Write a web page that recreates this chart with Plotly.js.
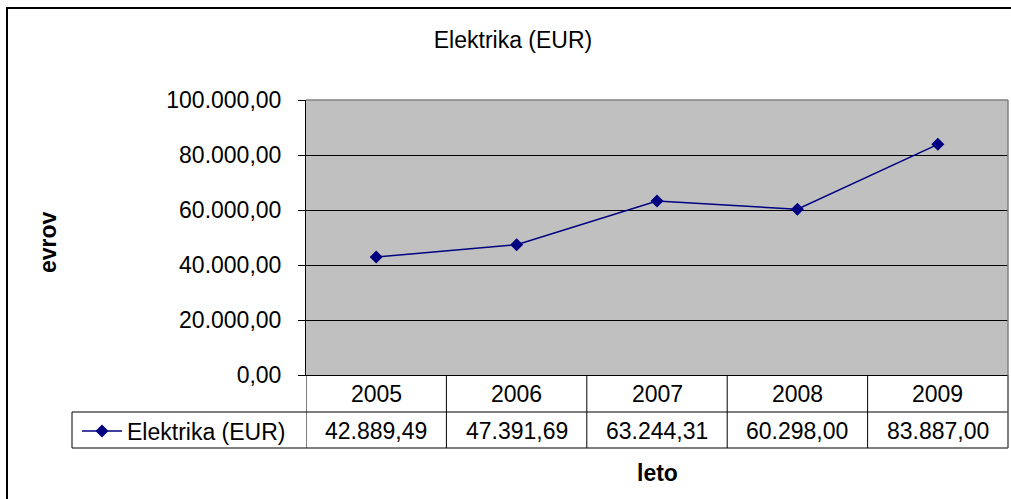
<!DOCTYPE html>
<html>
<head>
<meta charset="utf-8">
<script src="https://cdn.plot.ly/plotly-3.0.1.min.js"></script>
<style>html,body{margin:0;padding:0;background:#fff;}#chart{width:1011px;height:499px;}</style>
</head>
<body>
<div id="chart"></div>
<script>
const chartTitle = 'Elektrika (EUR)';
const seriesName = 'Elektrika (EUR)';
const years = ['2005', '2006', '2007', '2008', '2009'];
const values = [42889.49, 47391.69, 63244.31, 60298.00, 83887.00];
const yTicks = [0, 20000, 40000, 60000, 80000, 100000];
const yTitle = 'evrov';
const xTitle = 'leto';

const FONT = 'Liberation Sans, Arial, sans-serif';
const FS = 23;
const NAVY = '#000080';

function fmt(v) {
  const parts = v.toFixed(2).split('.');
  parts[0] = parts[0].replace(/\B(?=(\d{3})+(?!\d))/g, '.');
  return parts[0] + ',' + parts[1];
}

// pixel helpers for paper coords (plot area: x 306..1008, y 100..375)
const L = 306, R = 1008, T = 100, B = 375;
const px = x => (x - L) / (R - L);
const py = y => (B - y) / (B - T);

const shapes = [];
shapes.push({type: 'rect', xref: 'paper', yref: 'paper', x0: px(7), x1: px(1016), y0: py(520), y1: py(8),
  line: {color: '#000', width: 2}, fillcolor: 'rgba(0,0,0,0)', layer: 'below'});
shapes.push({type: 'line', xref: 'paper', yref: 'paper', x0: 0, x1: 1, y0: 1, y1: 1, line: {color: '#808080', width: 1.5}});
shapes.push({type: 'line', xref: 'paper', yref: 'paper', x0: 1, x1: 1, y0: 0, y1: 1, line: {color: '#808080', width: 1.5}});
shapes.push({type: 'line', xref: 'paper', yref: 'paper', x0: px(72), x1: 1, y0: py(412), y1: py(412), line: {color: '#000', width: 1}});
shapes.push({type: 'line', xref: 'paper', yref: 'paper', x0: px(72), x1: 1, y0: py(448), y1: py(448), line: {color: '#000', width: 1}});
shapes.push({type: 'line', xref: 'paper', yref: 'paper', x0: px(72), x1: px(72), y0: py(412), y1: py(448), line: {color: '#000', width: 1}});
shapes.push({type: 'line', xref: 'paper', yref: 'paper', x0: 1, x1: 1, y0: py(375), y1: py(448), line: {color: '#555', width: 1.5}});
for (let i = 0; i < years.length; i++) {
  shapes.push({type: 'line', xref: 'x', yref: 'paper', x0: i - 0.5, x1: i - 0.5, y0: py(375), y1: py(448), line: {color: '#000', width: 1}});
}

const annotations = [];
years.forEach((yr, i) => {
  annotations.push({xref: 'x', yref: 'paper', x: i, y: py(394), text: yr, showarrow: false,
    xanchor: 'center', yanchor: 'middle', font: {family: FONT, size: FS, color: '#000'}});
  annotations.push({xref: 'x', yref: 'paper', x: i, y: py(431), text: fmt(values[i]), showarrow: false,
    xanchor: 'center', yanchor: 'middle', font: {family: FONT, size: FS, color: '#000'}});
});
annotations.push({xref: 'paper', yref: 'paper', x: px(48), y: py(242), text: '<b>' + yTitle + '</b>', textangle: -90,
  showarrow: false, xanchor: 'center', yanchor: 'middle', font: {family: FONT, size: FS, color: '#000'}});
annotations.push({xref: 'paper', yref: 'paper', x: px(657), y: py(473), text: '<b>' + xTitle + '</b>',
  showarrow: false, xanchor: 'center', yanchor: 'middle', font: {family: FONT, size: FS, color: '#000'}});

const trace = {
  type: 'scatter', mode: 'lines+markers', name: seriesName,
  x: years, y: values,
  line: {color: NAVY, width: 1.5},
  marker: {symbol: 'diamond', size: 10, color: NAVY}
};

const layout = {
  width: 1011, height: 499,
  margin: {l: L, r: 1011 - R, t: T, b: 499 - B, pad: 0},
  paper_bgcolor: '#ffffff', plot_bgcolor: '#C0C0C0',
  separators: ',.',
  font: {family: FONT, size: FS, color: '#000'},
  title: {text: chartTitle, x: 513 / 1011, xanchor: 'center', y: 1 - 40 / 499, yanchor: 'middle', yref: 'container',
    font: {family: FONT, size: FS, color: '#000'}},
  showlegend: true,
  legend: {x: px(77), y: py(431), xanchor: 'left', yanchor: 'middle', bgcolor: 'rgba(0,0,0,0)',
    borderwidth: 0, font: {family: FONT, size: FS, color: '#000'}, itemwidth: 40},
  xaxis: {type: 'category', range: [-0.5, 4.5], showticklabels: false, ticks: '', showgrid: false,
    showline: true, linecolor: '#000', linewidth: 1, zeroline: false, fixedrange: true},
  yaxis: {range: [0, 100000], tickvals: yTicks, tickformat: ',.2f', ticks: 'outside', ticklen: 7, tickcolor: '#000',
    showline: true, linecolor: '#000', linewidth: 1, showgrid: true, gridcolor: '#000', gridwidth: 1,
    zeroline: false, ticklabelstandoff: 12, tickfont: {family: FONT, size: FS, color: '#000'}, fixedrange: true},
  shapes: shapes,
  annotations: annotations
};

Plotly.newPlot('chart', [trace], layout, {displayModeBar: false, staticPlot: true});
</script>
</body>
</html>
